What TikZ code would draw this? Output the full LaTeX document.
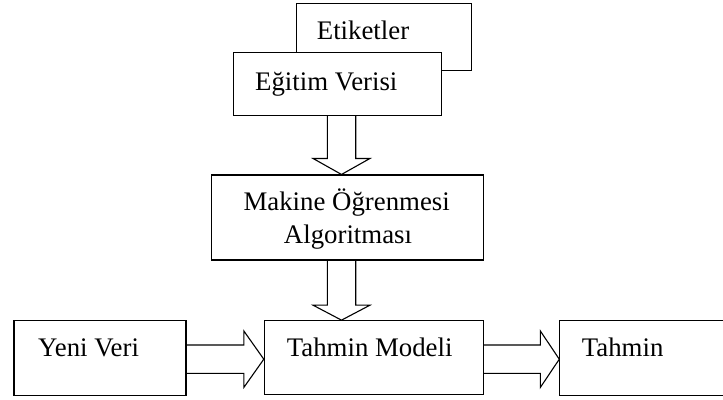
\documentclass[tikz,border=0pt]{standalone}
\usepackage{fontspec}
\setmainfont{Liberation Serif}
\usetikzlibrary{calc}
\newcommand\vblock[3]{%
  \draw[hollow] let \p1=(#1), \p2=(#2) in
    (\x1-14.2pt,\y1) -- (\x1-14.2pt,\y2+#3) -- (\x1-28.5pt,\y2+#3) -- (\x1,\y2)
    -- (\x1+28.5pt,\y2+#3) -- (\x1+14.2pt,\y2+#3) -- (\x1+14.2pt,\y1);}
\newcommand\hblock[3]{%
  \draw[hollow] let \p1=(#1), \p2=(#2) in
    (\x1,\y1+14.2pt) -- (\x2-#3,\y1+14.2pt) -- (\x2-#3,\y1+28.3pt) -- (\x2,\y1)
    -- (\x2-#3,\y1-28.3pt) -- (\x2-#3,\y1-14.2pt) -- (\x1,\y1-14.2pt);}
\begin{document}
\begin{tikzpicture}[x=1pt,y=-1pt,
  box/.style={draw,line width=1.1pt,fill=white,inner sep=0pt},
  txt/.style={anchor=base west,inner sep=0pt,font=\fontsize{26.8}{33}\selectfont},
  ctxt/.style={anchor=base,inner sep=0pt,font=\fontsize{26.8}{33}\selectfont},
  hollow/.style={line width=1.1pt,line join=miter}]
\useasboundingbox (0,0) rectangle (723,399);
\fill[white] (0,0) rectangle (723,399);
% boxes
\node[box,minimum width=175pt,minimum height=66.7pt] (etik) at (384.2,36.7) {};
\node[box,minimum width=208.4pt,minimum height=62.7pt] (egitim) at (337.5,83.7) {};
\node[box,minimum width=271.6pt,minimum height=85pt] (makine) at (347.5,217.5) {};
\node[box,minimum width=172pt,minimum height=74.3pt] (yeni) at (100,357.9) {};
\node[box,minimum width=218.7pt,minimum height=73.8pt] (model) at (373.7,357.6) {};
\node[inner sep=0pt,minimum width=163.7pt,minimum height=74.3pt,anchor=west] (tahmin) at (559.3,357.9) {};
\draw[line width=1.1pt] (tahmin.north east) -- (tahmin.north west) -- (tahmin.south west) -- (tahmin.south east);
% texts
\node[txt] (tEtik) at (316.7,39.5) {Etiketler};
\node[txt] (tEgitim) at (255,90) {Eğitim Verisi};
\node[ctxt] (tMak1) at (346.7,210) {Makine Öğrenmesi};
\node[ctxt] (tMak2) at (348,243.3) {Algoritması};
\node[txt] (tYeni) at (38,356.7) {Yeni Veri};
\node[txt] (tModel) at (286.7,356.7) {Tahmin Modeli};
\node[txt] (tTahmin) at (581.7,356.7) {Tahmin};
% block arrows
\coordinate (ax) at (341.5,0);
\coordinate (ay) at (0,359.2);
\vblock{egitim.south -| ax}{makine.north -| ax}{16pt}
\vblock{makine.south -| ax}{model.north -| ax}{15pt}
\hblock{yeni.east |- ay}{model.west |- ay}{20pt}
\hblock{model.east |- ay}{tahmin.west |- ay}{19pt}
\end{tikzpicture}
\end{document}
